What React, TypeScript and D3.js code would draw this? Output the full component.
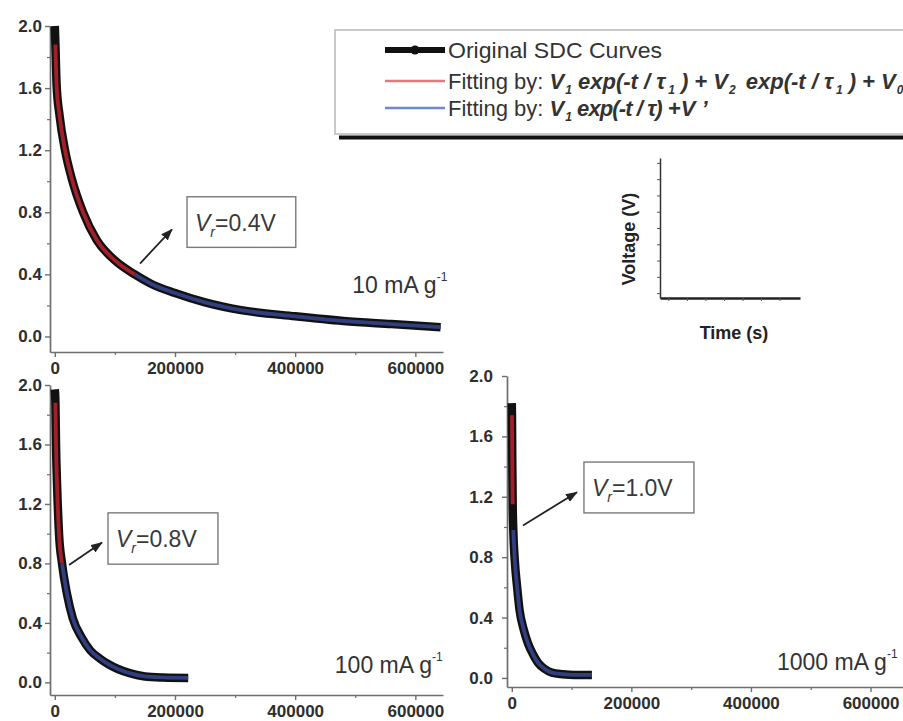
import React, { useEffect, useRef } from 'react';
import * as d3 from 'd3';

const WIDTH = 903;
const HEIGHT = 721;

// ---- Data (time in s, voltage in V) ----
const time10 = [0, 1000, 3000, 8000, 17000, 28000, 47000, 70000, 100000, 133000, 160000, 200000, 250000, 310000, 400000, 480000, 560000, 642000];
const volt10 = [2.0, 1.88, 1.62, 1.42, 1.2, 1.02, 0.8, 0.62, 0.49, 0.4, 0.34, 0.28, 0.22, 0.17, 0.13, 0.1, 0.08, 0.06];

const time100 = [0, 1000, 2000, 4000, 7000, 12000, 20000, 30000, 45000, 59000, 75000, 90000, 105000, 126000, 150000, 180000, 222000];
const volt100 = [1.97, 1.88, 1.6, 1.3, 1.0, 0.8, 0.6, 0.43, 0.3, 0.215, 0.16, 0.12, 0.09, 0.06, 0.04, 0.033, 0.03];

const time1000 = [0, 300, 800, 1500, 2500, 5000, 9000, 13000, 20000, 27000, 35000, 44000, 55000, 67000, 85000, 105000, 134000];
const volt1000 = [1.82, 1.74, 1.45, 1.15, 0.98, 0.78, 0.6, 0.45, 0.32, 0.23, 0.16, 0.1, 0.06, 0.035, 0.025, 0.02, 0.02];

const transitionV = [0.4, 0.8, 1.0];
const currentLabels = ['10', '100', '1000'];

const yMajorTicks = [0, 0.4, 0.8, 1.2, 1.6, 2.0];
const yMinorTicks = [0.2, 0.6, 1.0, 1.4, 1.8];
const xMajorTicks = [0, 200000, 400000, 600000];
const xMinorTicks = [100000, 300000, 500000];

const legendLabels = ['Original SDC Curves', 'Fitting by: ', 'Fitting by: '];

// annotation anchors in data coordinates: [t, V]
const arrowFrom = [[141800, 0.47], [23600, 0.79], [18700, 1.01]];
const arrowTo = [[195000, 0.69], [78500, 0.94], [109000, 1.23]];
const boxT = [[220000, 401000], [88500, 271500], [120700, 304700]];
const boxV = [[0.9, 0.574], [1.14, 0.795], [1.43, 1.093]];
const rateLabelPos = [[495000, 0.277], [466000, 0.06], [443500, 0.053]];

const FONT = 'Arial, "Liberation Sans", Helvetica, sans-serif';

type Layout = {
  xDomain: [number, number];
  xRange: [number, number];
  yDomain: [number, number];
  yRange: [number, number];
  yPad: number;
};

const layouts: Layout[] = [
  { xDomain: [-8000, 646000], xRange: [50, 443], yDomain: [-0.1, 2.0], yRange: [352, 26], yPad: 3 },
  { xDomain: [-8000, 646000], xRange: [50, 443], yDomain: [-0.085, 2.0], yRange: [695, 385], yPad: 3 },
  { xDomain: [-8000, 656000], xRange: [507, 904], yDomain: [-0.06, 2.0], yRange: [687, 376], yPad: 9 },
];

// formula pieces: [text, isSubscript, dxBefore, letterSpacing]
type Piece = [string, boolean, number, number];
const formula2: Piece[] = [
  ['V', false, 0, 0], ['1', true, 1, 0], [' exp(-t / τ', false, 0, 0], ['1', true, 3, 0], [')', false, 6, 0],
  [' + V', false, 0, 0], ['2', true, 1, 0], [' exp(-t / τ', false, 4, 0], ['1', true, 3, 0], [')', false, 6, 0],
  [' + V', false, 0, 0], ['0', true, 1, 0],
];
const formula3: Piece[] = [
  ['V', false, 0, 0], ['1', true, 1, 0], [' exp(-t / τ)', false, 0, -0.9], [' +V \u2019', false, 0, 0],
];

export default function App() {
  const ref = useRef<SVGSVGElement>(null);

  useEffect(() => {
    document.body.style.margin = '0';
    const svg = d3.select(ref.current);
    svg.selectAll('*').remove();

    svg.append('rect').attr('width', WIDTH).attr('height', HEIGHT).attr('fill', '#fff');

    const defs = svg.append('defs');
    defs
      .append('marker')
      .attr('id', 'arrowHead')
      .attr('viewBox', '0 0 12 9')
      .attr('refX', 11)
      .attr('refY', 4.5)
      .attr('markerWidth', 12)
      .attr('markerHeight', 9)
      .attr('markerUnits', 'userSpaceOnUse')
      .attr('orient', 'auto')
      .append('path')
      .attr('d', 'M0,0 L12,4.5 L0,9 Z')
      .attr('fill', '#222');

    const datasets = [
      [time10, volt10],
      [time100, volt100],
      [time1000, volt1000],
    ];

    datasets.forEach(([time, volt], i) => {
      const L = layouts[i];
      const x = d3.scaleLinear().domain(L.xDomain).range(L.xRange);
      const y = d3.scaleLinear().domain(L.yDomain).range(L.yRange);
      const g = svg.append('g');

      const styleAxis = (sel: any) => {
        sel.attr('font-family', FONT).attr('font-size', 17).attr('fill', null);
        sel.select('.domain').attr('stroke', '#6e6e6e').attr('stroke-width', 1.7);
        sel.selectAll('.tick line').attr('stroke', '#6e6e6e').attr('stroke-width', 1.4);
        sel.selectAll('.tick text').attr('font-weight', 'bold').attr('fill', '#2e2e2e');
      };

      // y axis
      const ya = g
        .append('g')
        .attr('transform', `translate(${L.xRange[0]},0)`)
        .call(
          d3
            .axisLeft(y)
            .tickValues(yMajorTicks)
            .tickFormat(d3.format('.1f') as any)
            .tickSize(5)
            .tickSizeOuter(0)
            .tickPadding(L.yPad)
        );
      styleAxis(ya);
      const yam = g
        .append('g')
        .attr('transform', `translate(${L.xRange[0]},0)`)
        .call(d3.axisLeft(y).tickValues(yMinorTicks).tickFormat(() => '').tickSize(3).tickSizeOuter(0));
      yam.select('.domain').remove();
      yam.selectAll('.tick line').attr('stroke', '#6e6e6e').attr('stroke-width', 1.2);

      // x axis
      const xa = g
        .append('g')
        .attr('transform', `translate(0,${L.yRange[0]})`)
        .call(
          d3
            .axisBottom(x)
            .tickValues(xMajorTicks)
            .tickFormat(d3.format('d') as any)
            .tickSize(5)
            .tickSizeOuter(0)
            .tickPadding(5)
        );
      styleAxis(xa);
      const xam = g
        .append('g')
        .attr('transform', `translate(0,${L.yRange[0]})`)
        .call(d3.axisBottom(x).tickValues(xMinorTicks).tickFormat(() => '').tickSize(3).tickSizeOuter(0));
      xam.select('.domain').remove();
      xam.selectAll('.tick line').attr('stroke', '#6e6e6e').attr('stroke-width', 1.2);

      // curves
      const pts: [number, number][] = time.map((t, k) => [t, volt[k]]);
      const vr = transitionV[i];
      const line = d3
        .line<[number, number]>()
        .x((d) => x(d[0]))
        .y((d) => y(d[1]))
        .curve(d3.curveMonotoneX);

      g.append('path')
        .attr('d', line(pts))
        .attr('fill', 'none')
        .attr('stroke', '#111')
        .attr('stroke-width', 8.5)
        .attr('stroke-linejoin', 'round');

      const red = pts.filter((d, k) => k >= 1 && d[1] >= vr);
      const blue = pts.filter((d) => d[1] <= vr);
      g.append('path')
        .attr('d', line(red))
        .attr('fill', 'none')
        .attr('stroke', '#a3202b')
        .attr('stroke-width', 3.8);
      g.append('path')
        .attr('d', line(blue))
        .attr('fill', 'none')
        .attr('stroke', '#313e80')
        .attr('stroke-width', 3.8);

      // arrow
      g.append('line')
        .attr('x1', x(arrowFrom[i][0]))
        .attr('y1', y(arrowFrom[i][1]))
        .attr('x2', x(arrowTo[i][0]))
        .attr('y2', y(arrowTo[i][1]))
        .attr('stroke', '#222')
        .attr('stroke-width', 1.8)
        .attr('marker-end', 'url(#arrowHead)');

      // annotation box
      const bx0 = x(boxT[i][0]);
      const bx1 = x(boxT[i][1]);
      const by0 = y(boxV[i][0]);
      const by1 = y(boxV[i][1]);
      g.append('rect')
        .attr('x', bx0)
        .attr('y', by0)
        .attr('width', bx1 - bx0)
        .attr('height', by1 - by0)
        .attr('fill', '#fff')
        .attr('stroke', '#7a7a7a')
        .attr('stroke-width', 1.4);
      const bt = g
        .append('text')
        .attr('x', bx0 + 8)
        .attr('y', by0 + 34)
        .attr('font-family', FONT)
        .attr('font-size', 23)
        .attr('fill', '#3a3a3a');
      bt.append('tspan').attr('font-style', 'italic').text('V');
      bt.append('tspan').attr('font-style', 'italic').attr('font-size', 14).attr('dy', 6).text('r');
      bt.append('tspan').attr('dy', -6).text(`=${vr.toFixed(1)}V`);

      // rate label
      const rl = g
        .append('text')
        .attr('x', x(rateLabelPos[i][0]))
        .attr('y', y(rateLabelPos[i][1]))
        .attr('font-family', FONT)
        .attr('font-size', 23)
        .attr('fill', '#333');
      rl.append('tspan').text(`${currentLabels[i]} mA g`);
      rl.append('tspan').attr('font-size', 12).attr('dy', -12).text('-1');
    });

    // ---- Legend ----
    const lg = svg.append('g');
    lg.append('line').attr('x1', 339).attr('x2', WIDTH + 5).attr('y1', 137.5).attr('y2', 137.5).attr('stroke', '#111').attr('stroke-width', 4);
    lg.append('rect')
      .attr('x', 335)
      .attr('y', 30)
      .attr('width', 600)
      .attr('height', 104)
      .attr('fill', '#fff')
      .attr('stroke', '#b8b8b8')
      .attr('stroke-width', 1.5);

    const rows = [50, 81, 108];
    const rowColors = ['#111', '#e8777a', '#6f86d6'];
    rows.forEach((ry, k) => {
      lg.append('line')
        .attr('x1', 385)
        .attr('x2', 445)
        .attr('y1', ry)
        .attr('y2', ry)
        .attr('stroke', rowColors[k])
        .attr('stroke-width', k === 0 ? 6 : 2.6);
      if (k === 0) lg.append('circle').attr('cx', 415).attr('cy', ry).attr('r', 4.5).attr('fill', '#111');
    });

    const mkText = (ry: number) =>
      lg
        .append('text')
        .attr('x', 448)
        .attr('y', ry + 8)
        .attr('font-family', FONT)
        .attr('font-size', 22)
        .attr('fill', '#333');

    mkText(rows[0]).text(legendLabels[0]).attr('textLength', 214).attr('lengthAdjust', 'spacingAndGlyphs');

    const addFormula = (t: any, parts: Piece[]) => {
      let pending = 0;
      parts.forEach(([s, sub, dx, ls]) => {
        const ts = t.append('tspan').attr('font-weight', 'bold').attr('font-style', 'italic');
        if (dx) ts.attr('dx', dx);
        if (ls) ts.attr('letter-spacing', ls);
        if (sub) {
          ts.attr('font-size', 12).attr('dy', 5 + pending).text(s);
          pending = -5;
        } else {
          ts.attr('font-size', 22).attr('dy', pending).text(s);
          pending = 0;
        }
      });
    };

    const t2 = mkText(rows[1]);
    t2.append('tspan').text(legendLabels[1]);
    addFormula(t2, formula2);

    const t3 = mkText(rows[2]);
    t3.append('tspan').text(legendLabels[2]);
    addFormula(t3, formula3);

    // ---- Inset (schematic axes) ----
    const ix = d3.scaleLinear().domain([-0.45, 7.1]).range([660, 800]);
    const iy = d3.scaleLinear().domain([0, 4.3]).range([298, 158]);
    const ig = svg.append('g');
    const iya = ig
      .append('g')
      .attr('transform', 'translate(660,0)')
      .call(d3.axisLeft(iy).tickValues(d3.range(0.15, 4.3, 0.5)).tickFormat(() => '').tickSize(3).tickSizeOuter(0));
    iya.select('.domain').attr('stroke', '#333').attr('stroke-width', 1.5);
    iya.selectAll('.tick line').attr('stroke', '#555');
    const ixa = ig
      .append('g')
      .attr('transform', 'translate(0,298)')
      .call(d3.axisBottom(ix).tickValues(d3.range(0, 7, 1)).tickFormat(() => '').tickSize(3).tickSizeOuter(0));
    ixa.select('.domain').attr('stroke', '#222').attr('stroke-width', 2.6);
    ixa.selectAll('.tick line').attr('stroke', '#555');
    ig.append('text')
      .attr('transform', 'translate(635,239) rotate(-90)')
      .attr('text-anchor', 'middle')
      .attr('font-family', FONT)
      .attr('font-weight', 'bold')
      .attr('font-size', 18)
      .attr('fill', '#222')
      .text('Voltage (V)');
    ig.append('text')
      .attr('x', 734)
      .attr('y', 339)
      .attr('text-anchor', 'middle')
      .attr('font-family', FONT)
      .attr('font-weight', 'bold')
      .attr('font-size', 18)
      .attr('fill', '#222')
      .text('Time (s)');
  }, []);

  return (
    <svg
      ref={ref}
      width={WIDTH}
      height={HEIGHT}
      style={{ display: 'block', position: 'absolute', left: 0, top: 0, background: '#fff' }}
    />
  );
}
